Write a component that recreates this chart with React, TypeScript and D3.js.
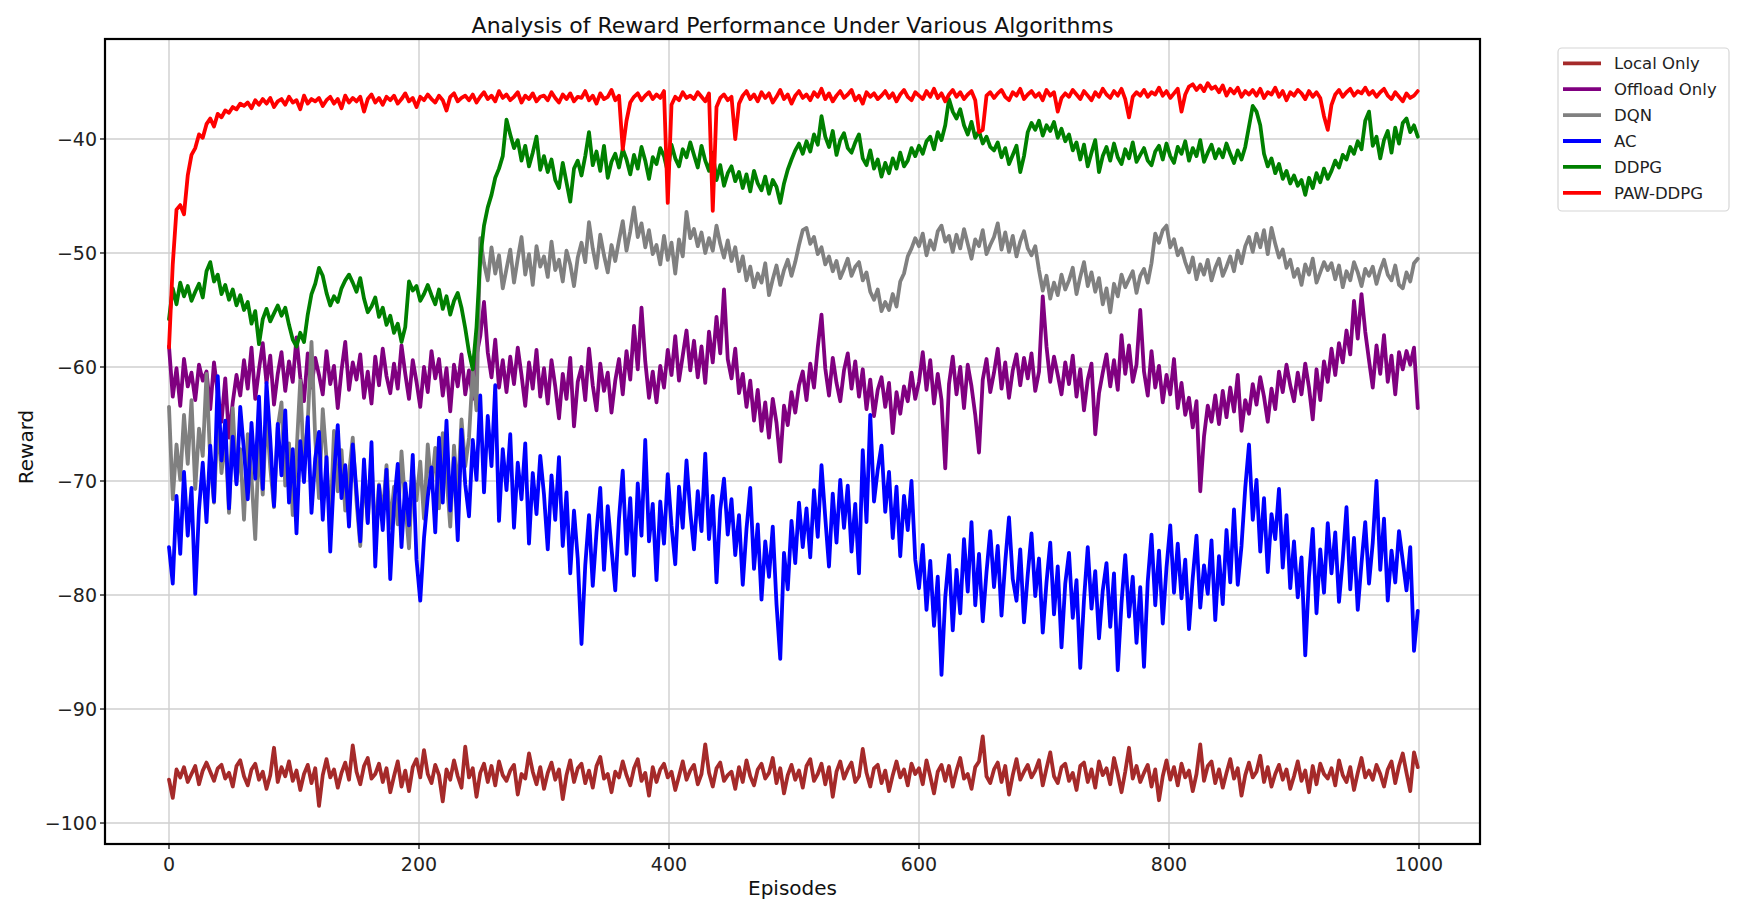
import React from "react";
import * as d3 from "d3";

const EPISODES: number[] = d3.range(0, 1000, 3);

const LOCAL_ONLY = [
  -96.2, -97.8, -95.3, -96.0, -95.1, -96.4, -95.7, -95.0, -96.6, -95.4,
  -94.7, -95.5, -96.3, -95.2, -94.9, -96.1, -95.6, -96.8, -95.0, -94.5,
  -95.9, -96.7, -95.3, -94.8, -96.2, -95.5, -97.0, -95.8, -93.4, -96.4,
  -95.1, -95.9, -94.6, -96.3, -95.4, -97.1, -95.7, -94.9, -96.5, -95.2,
  -98.5, -95.8, -94.4, -96.0, -95.3, -96.9, -95.6, -94.7, -96.2, -93.2,
  -95.5, -96.6, -95.0, -94.3, -96.1, -95.7, -94.8, -96.4, -95.2, -97.3,
  -95.9, -94.6, -96.8, -95.4, -97.2, -95.1, -94.4, -96.0, -93.6, -95.7,
  -96.5, -94.9, -95.8, -98.1, -95.3, -96.2, -94.5, -95.9, -96.9, -93.3,
  -96.0, -95.2, -97.7, -95.6, -94.8, -96.4, -95.0, -96.7, -94.6, -95.8,
  -96.3, -95.4, -94.9, -97.5, -95.7, -96.1, -93.9, -95.5, -96.6, -95.1,
  -97.0, -95.6, -94.7, -96.2, -95.3, -97.9, -95.8, -94.5, -96.4, -95.2,
  -94.8, -96.5, -95.4, -96.9, -95.0, -94.2, -96.1, -95.7, -97.3, -95.5,
  -96.0, -94.6, -95.8, -96.7, -95.2, -94.4, -96.3, -95.6, -97.6, -95.1,
  -96.4, -95.3, -94.8, -96.0, -95.5, -97.1, -95.9, -94.6, -96.2, -95.4,
  -94.9, -96.6, -95.7, -93.1, -95.6, -96.8, -95.2, -94.7, -96.3, -95.8,
  -95.5, -97.0, -95.1, -96.4, -94.5, -95.9, -96.7, -95.3, -94.8, -96.1,
  -95.6, -94.3, -96.5, -95.2, -97.4, -95.8, -94.9, -96.2, -95.4, -96.9,
  -95.0, -94.4, -96.3, -95.7, -94.8, -96.6, -95.1, -97.7, -95.5, -94.6,
  -96.1, -95.3, -94.7, -96.4, -95.9, -93.5, -95.6, -96.8, -95.2, -94.9,
  -96.5, -95.4, -97.2, -95.8, -94.6, -96.0, -95.3, -96.7, -94.8, -95.7,
  -95.2, -96.6, -94.5, -95.9, -97.4, -95.5, -94.9, -96.3, -95.0, -96.8,
  -95.4, -94.3, -96.1, -95.7, -97.0, -95.1, -94.6, -92.4, -95.9, -96.5,
  -95.3, -94.7, -96.4, -95.0, -97.5, -95.8, -94.4, -96.2, -95.5, -94.9,
  -96.0, -95.4, -94.5, -96.7, -95.2, -93.8, -95.9, -96.5, -95.1, -94.8,
  -96.3, -95.6, -97.1, -95.0, -94.7, -96.4, -95.3, -96.9, -94.6, -95.8,
  -95.2, -96.6, -94.3, -95.7, -97.3, -95.5, -93.4, -96.1, -95.0, -96.4,
  -95.6, -94.9, -96.8, -95.3, -98.0, -95.9, -94.5, -96.2, -95.1, -96.7,
  -94.8, -96.0, -95.4, -97.2, -95.7, -93.1, -96.3, -95.0, -94.6, -96.5,
  -95.3, -96.9, -95.6, -94.4, -96.1, -95.2, -97.6, -95.8, -94.7, -96.0,
  -95.5, -94.1, -96.4, -95.1, -96.8, -95.7, -94.9, -96.2, -95.3, -97.0,
  -95.9, -94.6, -96.3, -95.4, -97.3, -95.0, -96.6, -94.8, -95.7, -96.1,
  -95.2, -96.7, -94.5, -95.8, -96.4, -95.1, -97.1, -95.6, -94.3, -96.0,
  -95.4, -96.2, -94.9, -95.7, -96.8, -95.3, -94.6, -96.5, -95.0, -93.9,
  -95.6, -97.2, -93.8, -95.1,
];

const OFFLOAD_ONLY = [
  -58.2, -62.6, -60.1, -63.4, -59.3, -61.7, -60.5, -62.9, -59.8, -61.2,
  -60.4, -63.7, -59.6, -62.3, -64.8, -61.0, -66.2, -63.1, -60.7, -62.5,
  -59.4, -61.9, -58.3, -62.8, -60.2, -57.9, -61.4, -59.0, -63.3, -60.6,
  -58.7, -62.1, -59.5, -61.3, -57.4, -60.9, -63.0, -58.8, -61.8, -59.2,
  -60.7, -62.4, -58.6, -61.5, -59.9, -63.6, -60.3, -57.8, -62.0, -59.6,
  -61.1, -58.9, -62.7, -60.4, -63.2, -59.1, -61.6, -58.4, -60.8, -62.3,
  -59.7, -61.9, -58.1, -60.6, -62.8, -59.4, -61.3, -63.5, -60.0, -62.2,
  -58.6, -61.0, -59.3, -62.5, -60.1, -63.9, -59.8, -61.7, -58.9, -62.4,
  -60.3, -62.8, -59.0, -57.3, -54.3, -58.7, -60.9, -57.6, -61.8, -59.4,
  -62.2, -59.1, -61.5, -58.3, -60.7, -63.4, -59.6, -61.9, -58.5, -62.6,
  -60.1, -63.2, -59.4, -61.7, -64.5, -60.6, -62.8, -59.2, -65.2, -61.3,
  -60.0, -62.9, -58.4, -61.6, -63.8, -59.7, -62.1, -60.5, -64.0, -61.2,
  -59.3, -62.4, -58.6, -61.1, -56.4, -60.2, -54.8, -59.5, -62.7, -60.4,
  -63.1, -59.9, -61.8, -58.5, -60.7, -57.3, -61.2, -59.0, -56.8, -60.3,
  -57.7, -60.9, -58.2, -61.4, -56.9, -59.6, -55.6, -58.8, -53.2, -59.3,
  -61.0, -58.4, -62.3, -60.6, -63.5, -61.2, -64.7, -62.0, -65.6, -63.1,
  -66.2, -62.8, -64.9, -68.3, -63.4, -65.1, -62.2, -64.0, -61.6, -60.4,
  -62.9, -59.7, -61.8, -58.3, -55.4, -60.1, -62.5, -59.2, -61.4, -63.0,
  -60.3, -58.8, -61.9, -59.5, -62.6, -60.2, -63.7, -61.1, -64.3, -62.0,
  -60.9, -63.5, -61.4, -65.8, -62.2, -64.1, -61.7, -63.0, -60.5, -62.8,
  -61.3, -58.7, -62.0, -59.4, -63.2, -60.6, -62.9, -68.9, -61.5, -59.1,
  -62.4, -60.0, -63.6, -59.8, -61.7, -64.2, -67.5, -61.1, -59.3, -62.2,
  -60.5, -58.4, -61.9, -59.6, -62.7, -60.3, -58.9, -61.6, -59.2, -61.0,
  -58.8, -62.1, -60.4, -53.8, -58.2, -61.3, -59.1, -60.7, -62.4, -59.6,
  -61.5, -59.0, -62.6, -60.2, -63.8, -61.1, -59.7, -65.9, -62.3, -60.5,
  -58.9, -61.7, -59.4, -62.0, -57.2, -60.6, -58.1, -61.3, -59.8, -55.0,
  -60.4, -62.5, -58.6, -61.8, -59.9, -63.1, -60.7, -62.4, -59.3, -63.6,
  -61.4, -64.2, -62.7, -65.3, -63.0, -70.9, -66.1, -63.4, -64.8, -62.5,
  -65.0, -62.1, -64.4, -61.8, -63.9, -60.7, -65.6, -62.9, -64.1, -61.5,
  -63.3, -60.9, -62.6, -64.8, -61.9, -63.7, -60.4, -62.2, -59.8, -61.6,
  -63.0, -60.5, -62.4, -59.7, -61.8, -64.6, -60.2, -62.9, -59.5, -61.3,
  -58.4, -60.7, -57.9, -59.6, -56.8, -58.9, -54.2, -57.5, -53.6, -56.9,
  -59.4, -61.8, -58.1, -60.6, -57.2, -61.3, -59.0, -62.4, -58.7, -60.2,
  -58.6, -59.8, -58.3, -63.6,
];

const DQN = [
  -63.5, -71.6, -66.8, -69.9, -64.2, -68.5, -62.9, -70.7, -65.4, -67.8,
  -60.6, -68.2, -71.9, -64.7, -69.3, -66.0, -72.8, -63.6, -70.1, -67.2,
  -73.4, -65.9, -69.7, -75.1, -66.5, -71.2, -64.0, -68.8, -72.3, -65.3,
  -63.1, -70.4, -66.7, -73.0, -67.6, -61.2, -69.0, -64.8, -57.8, -66.3,
  -71.5, -63.7, -68.1, -74.2, -65.6, -70.9, -67.3, -72.6, -69.4, -66.2,
  -71.8, -75.7, -69.2, -73.6, -67.9, -75.2, -70.3, -72.9, -68.6, -74.1,
  -70.5, -73.8, -67.4, -72.0, -75.9, -69.1, -71.7, -68.3, -73.3, -66.8,
  -70.6, -67.1, -72.4, -65.8, -69.6, -74.0, -66.9, -71.3, -64.6, -68.7,
  -66.2, -60.3, -63.8, -48.7, -50.9, -52.4, -49.5, -51.8, -50.2, -53.1,
  -51.4, -49.7, -52.6, -50.5, -48.6, -51.9, -50.1, -52.8, -49.4, -51.2,
  -50.3, -52.1, -49.0, -51.5, -50.6, -52.5, -49.8, -51.0, -52.9, -50.4,
  -49.1, -50.8, -47.3, -49.6, -51.3, -48.4, -50.2, -51.7, -49.3, -50.7,
  -48.9, -47.2, -49.8, -48.1, -46.0, -48.6, -47.4, -49.5, -48.0, -50.1,
  -49.3, -51.0, -48.5, -50.6, -49.1, -51.8, -48.8, -50.3, -46.4, -48.7,
  -47.9, -49.4, -48.2, -50.0, -48.7, -49.8, -47.6, -49.2, -50.4, -48.9,
  -50.7, -49.5, -51.6, -50.3, -52.4, -51.2, -53.0, -51.8, -52.6, -50.9,
  -53.7, -52.3, -51.1, -52.8, -51.5, -50.6, -52.0, -50.8, -49.3, -48.0,
  -47.8, -49.2, -48.6, -50.1, -49.5, -51.0, -50.3, -51.6, -50.7, -52.2,
  -51.4, -50.5, -52.0, -51.2, -50.8, -52.4, -51.7, -53.4, -54.1, -53.2,
  -55.1, -54.3, -55.0, -53.6, -54.7, -52.5, -51.8, -50.3, -49.6, -48.7,
  -49.4, -48.3, -50.2, -48.9, -49.7, -48.1, -47.6, -49.0, -48.5, -49.9,
  -48.4, -49.6, -47.9, -49.2, -50.5, -48.8, -49.4, -48.0, -50.1, -49.3,
  -48.6, -47.4, -49.7, -48.2, -49.9, -48.5, -50.3, -49.0, -48.1, -49.6,
  -50.2, -49.4, -51.5, -53.3, -52.0, -54.0, -52.6, -53.7, -51.9, -53.2,
  -52.4, -51.3, -53.6, -52.1, -50.8, -52.9, -51.7, -53.4, -52.2, -54.5,
  -53.1, -55.2, -52.7, -53.8, -51.9, -53.0, -52.3, -51.6, -53.5, -52.0,
  -51.4, -52.6, -50.9, -48.3, -49.1, -48.0, -47.6, -49.5, -48.8, -50.2,
  -49.6, -50.8, -51.7, -50.4, -52.3, -51.0, -51.9, -50.6, -52.4, -51.3,
  -50.5, -52.0, -51.2, -50.3, -51.6, -49.8, -50.9, -49.4, -48.6, -49.9,
  -48.3, -49.5, -48.0, -50.1, -47.8, -49.2, -50.4, -49.7, -51.3, -50.6,
  -52.1, -51.4, -52.8, -51.0, -51.9, -50.5, -52.6, -51.7, -50.8, -51.5,
  -50.9, -52.3, -51.1, -53.0, -51.6, -52.4, -50.8, -51.7, -52.9, -51.4,
  -52.0, -51.2, -52.7, -51.5, -50.6, -51.9, -52.4, -51.1, -52.8, -53.1,
  -51.7, -52.5, -50.9, -50.5,
];

const AC = [
  -75.8, -79.0, -71.3, -76.4, -69.2, -74.8, -70.6, -79.9, -72.5, -68.4,
  -73.6, -66.9, -71.8, -60.8, -68.2, -64.7, -72.4, -66.1, -70.3, -63.5,
  -67.4, -71.6, -64.9, -69.8, -62.6, -70.7, -61.4, -66.3, -72.2, -65.0,
  -69.5, -63.8, -71.9, -67.2, -74.6, -66.5, -70.1, -64.4, -72.8, -68.0,
  -65.7, -73.4, -67.9, -76.2, -69.4, -65.1, -71.5, -68.6, -74.0, -66.8,
  -70.9, -75.3, -68.1, -73.7, -66.6, -77.5, -70.4, -74.3, -69.0, -78.6,
  -72.1, -68.5, -75.8, -70.2, -73.9, -67.7, -76.9, -80.5, -75.0, -71.4,
  -68.8, -74.5, -66.2, -71.9, -64.7, -72.6, -68.0, -75.2, -65.5, -70.3,
  -73.1, -66.4, -69.9, -62.5, -71.0, -64.3, -68.7, -61.6, -73.5, -67.2,
  -70.8, -65.9, -74.1, -68.4, -71.6, -66.7, -75.5, -69.3, -72.9, -67.8,
  -71.2, -76.0, -69.5, -73.4, -67.9, -75.7, -71.0, -78.1, -72.6, -76.8,
  -84.3, -77.4, -73.0, -79.2, -74.5, -70.6, -77.8, -72.2, -75.9, -79.6,
  -73.3, -69.1, -76.4, -71.5, -78.3, -70.2, -74.8, -66.4, -75.3, -72.0,
  -78.7, -71.8, -75.5, -69.4, -73.9, -77.3, -70.5, -74.1, -68.2, -72.7,
  -76.0, -70.9, -74.4, -67.6, -75.1, -71.3, -78.9, -72.5, -69.8, -74.7,
  -71.6, -76.5, -73.0, -79.1, -74.2, -70.6, -77.7, -73.8, -80.4, -75.3,
  -78.4, -74.0, -80.8, -85.6, -76.3, -79.5, -73.5, -77.2, -71.9, -75.8,
  -72.4, -76.7, -70.8, -74.9, -68.6, -73.2, -77.5, -71.1, -75.4, -69.9,
  -74.1, -70.4, -76.2, -72.0, -78.1, -67.3, -73.6, -64.2, -71.8, -69.0,
  -66.9, -72.7, -69.2, -75.0, -70.5, -76.6, -71.3, -74.3, -70.0, -76.9,
  -79.4, -75.6, -81.3, -77.0, -82.7, -78.4, -87.0, -80.2, -76.5, -83.1,
  -77.8, -81.6, -75.1, -79.7, -73.6, -80.9, -76.4, -82.3, -78.0, -74.4,
  -79.3, -75.7, -81.8, -77.1, -73.2, -78.6, -80.5, -76.0, -82.4, -78.2,
  -74.6, -80.1, -76.8, -83.3, -78.9, -75.4, -81.7, -77.5, -84.6, -79.0,
  -76.3, -82.0, -78.7, -86.4, -80.4, -75.8, -81.2, -77.9, -83.8, -79.6,
  -77.2, -82.8, -78.1, -86.6, -80.7, -76.5, -81.9, -78.4, -84.2, -79.3,
  -86.3, -78.8, -74.7, -80.9, -76.1, -82.5, -77.6, -73.9, -79.8, -75.5,
  -80.3, -76.9, -83.0, -78.5, -74.8, -81.1, -77.4, -79.9, -75.2, -82.2,
  -76.6, -80.8, -74.3, -78.9, -72.5, -79.1, -75.7, -70.6, -66.8, -73.4,
  -69.9, -76.2, -71.5, -78.0, -72.9, -75.1, -70.7, -77.6, -73.0, -79.4,
  -75.3, -80.2, -76.7, -85.3, -78.4, -74.2, -81.6, -76.0, -79.8, -73.7,
  -78.1, -74.5, -80.6, -76.9, -72.3, -79.5, -75.0, -81.3, -77.2, -73.6,
  -79.0, -75.4, -70.0, -77.8, -73.3, -80.5, -76.1, -78.9, -74.4, -77.0,
  -79.6, -75.8, -84.9, -81.4,
];

const DDPG = [
  -55.8, -53.1, -54.5, -52.6, -53.8, -52.9, -54.2, -53.4, -52.7, -53.9,
  -51.6, -50.8, -52.5, -51.9, -53.6, -52.8, -54.1, -53.2, -54.6, -53.7,
  -55.0, -54.3, -56.2, -55.1, -58.0, -55.8, -54.9, -56.0, -55.3, -54.6,
  -55.5, -54.8, -56.3, -57.6, -58.2, -57.0, -57.8, -55.4, -53.6, -52.7,
  -51.3, -52.0, -53.5, -54.6, -53.8, -54.3, -53.1, -52.4, -51.9, -52.6,
  -53.4, -52.2, -54.0, -55.2, -54.7, -53.9, -55.6, -54.8, -56.3, -55.5,
  -57.0, -56.2, -57.8, -56.5, -52.5, -53.3, -52.9, -54.2, -53.6, -52.8,
  -53.7, -54.5, -53.2, -54.9, -53.8, -55.4, -54.2, -53.5, -54.8, -56.6,
  -58.7, -60.2, -56.5, -50.5, -47.6, -46.0, -44.9, -43.4, -42.6, -41.5,
  -38.3, -39.6, -40.8, -40.1, -41.9, -40.6, -42.4, -41.2, -39.8, -42.7,
  -41.5, -42.9, -41.8, -43.6, -44.3, -42.1, -43.8, -45.5, -42.6, -41.9,
  -43.2, -41.5, -39.4, -42.3, -41.1, -42.8, -40.6, -43.4, -42.0, -41.3,
  -42.5, -40.9, -41.8, -43.1, -41.4, -42.6, -40.7, -41.9, -43.5, -41.6,
  -42.2, -40.8, -41.5, -42.9, -40.5, -41.7, -42.4, -40.9, -41.6, -40.3,
  -41.4, -42.5, -40.6, -41.9, -42.8, -41.2, -43.6, -42.3, -44.1, -43.0,
  -42.4, -43.7, -42.9, -44.3, -43.1, -44.6, -42.8, -43.9, -44.5, -43.3,
  -44.8, -43.6, -44.2, -45.6, -43.9, -42.7, -41.8, -41.0, -40.4, -41.3,
  -40.2, -41.1, -39.6, -40.5, -38.0, -39.8, -40.7, -39.3, -41.4, -40.1,
  -39.5, -40.8, -41.2, -40.3, -39.6, -41.7, -42.3, -41.0, -42.6, -41.8,
  -43.3, -42.1, -43.0, -41.7, -42.6, -41.2, -42.4, -41.9, -40.8, -41.5,
  -40.6, -41.3, -40.2, -39.8, -40.9, -39.4, -40.1, -38.8, -36.5, -37.6,
  -38.2, -37.4, -38.8, -39.6, -38.5, -39.9, -39.3, -40.4, -39.8, -40.7,
  -41.0, -40.3, -41.6, -40.8, -42.2, -41.4, -40.6, -42.9, -41.5, -39.4,
  -38.6, -39.2, -38.4, -39.7, -38.8, -39.3, -38.5, -39.9, -39.1, -40.2,
  -39.6, -41.0, -40.3, -41.8, -40.5, -42.4, -41.2, -40.1, -42.9, -41.5,
  -40.7, -41.9, -40.4, -41.6, -42.2, -40.9, -41.7, -40.3, -42.0, -41.4,
  -40.8, -41.9, -42.3, -41.1, -40.6, -41.8, -40.4, -41.5, -42.1, -40.7,
  -41.3, -40.2, -41.9, -40.8, -41.5, -40.1, -42.0, -41.2, -40.5, -41.7,
  -40.9, -41.6, -40.4, -41.3, -42.1, -41.0, -41.8, -40.7, -38.9, -37.1,
  -37.6, -38.8, -41.3, -42.4, -41.7, -43.0, -42.2, -43.5, -42.8, -43.9,
  -43.2, -44.1, -43.6, -44.9, -43.4, -44.3, -43.0, -43.8, -42.6, -43.5,
  -42.8, -41.9, -42.5, -41.4, -41.8, -40.7, -41.3, -40.2, -40.9, -38.4,
  -37.6, -40.6, -39.8, -41.7, -40.1, -39.3, -41.2, -39.0, -40.4, -38.6,
  -38.2, -39.4, -38.8, -39.8,
];

const PAW_DDPG = [
  -58.3, -51.0, -46.2, -45.8, -46.6, -43.2, -41.4, -40.8, -39.6, -39.9,
  -38.7, -38.2, -38.9, -37.8, -38.1, -37.5, -37.7, -37.2, -37.4, -36.9,
  -37.1, -36.8, -37.3, -36.6, -37.0, -36.5, -36.9, -36.4, -37.2, -36.7,
  -36.5, -37.0, -36.3, -36.8, -36.6, -37.4, -36.2, -36.9, -36.5, -36.7,
  -36.4, -37.1, -36.6, -36.3, -36.9, -36.5, -37.3, -36.2, -36.8, -36.4,
  -36.7, -36.3, -37.6, -36.5, -36.1, -36.8, -36.4, -37.0, -36.3, -36.6,
  -36.2, -36.9, -36.5, -36.0, -36.7, -36.4, -37.2, -36.3, -36.6, -36.1,
  -36.5, -36.8, -36.2, -36.6, -37.5, -36.3, -36.0, -36.7, -36.4, -36.2,
  -36.6, -36.1, -36.8, -36.3, -35.9, -36.5, -36.2, -36.7, -35.8, -36.4,
  -36.1, -36.6, -36.3, -35.9, -36.8, -36.2, -36.5, -36.0, -36.7, -36.3,
  -36.2, -36.6, -35.9, -36.4, -36.8, -36.1, -36.5, -36.0, -36.7, -36.3,
  -36.4, -35.8, -36.6, -36.2, -36.9, -36.0, -36.5, -36.3, -35.7, -36.6,
  -36.2, -40.9, -38.4, -36.8, -36.3, -36.0, -36.6, -36.2, -35.9, -36.5,
  -36.1, -36.4, -35.8, -45.6, -37.0, -36.3, -36.6, -35.9, -36.4, -36.2,
  -36.5, -35.9, -36.3, -36.7, -36.0, -46.3, -37.2, -36.4, -36.1, -36.6,
  -36.3, -40.0, -36.9, -36.2, -35.8, -36.5, -36.1, -36.7, -35.9, -36.4,
  -36.0, -36.8, -36.3, -35.7, -36.5, -36.1, -36.9, -36.2, -35.8, -36.4,
  -36.1, -36.6, -35.9, -36.3, -35.6, -36.5, -36.0, -36.7, -36.2, -35.8,
  -36.4, -36.1, -35.7, -36.6, -36.2, -36.9, -35.9, -36.3, -36.0, -36.5,
  -36.2, -35.8, -36.4, -36.0, -36.7, -36.1, -35.7, -36.3, -36.6, -35.9,
  -36.2, -36.5, -35.8, -36.3, -35.6, -36.4, -36.0, -36.7, -36.1, -35.7,
  -36.3, -35.9, -36.5, -36.1, -35.8, -36.6, -39.4, -39.2, -36.2, -35.9,
  -36.4, -36.0, -35.7, -36.3, -36.6, -35.9, -36.2, -35.6, -36.5, -36.1,
  -35.8, -36.3, -36.0, -36.6, -35.7, -36.2, -35.9, -37.6, -36.4, -36.0,
  -36.3, -35.7, -36.1, -36.5, -35.8, -36.2, -36.6, -35.9, -36.3, -35.6,
  -36.1, -36.4, -35.8, -36.2, -35.6, -36.5, -38.1, -36.3, -35.9, -36.2,
  -35.7, -36.3, -35.9, -36.1, -35.5, -36.2, -35.8, -36.4, -36.0, -35.6,
  -37.6, -36.1, -35.4, -35.2, -35.7, -35.3, -35.8, -35.1, -35.6, -35.4,
  -35.9, -35.3, -36.2, -35.6, -36.0, -35.5, -36.3, -35.8, -36.1, -35.7,
  -36.2, -35.6, -36.4, -35.9, -36.1, -35.5, -36.3, -35.8, -36.6, -35.9,
  -36.2, -35.7, -36.0, -36.5, -35.8, -36.3, -35.9, -36.4, -38.0, -39.2,
  -37.0, -36.1, -35.7, -36.3, -35.9, -35.6, -36.2, -35.8, -36.0, -35.5,
  -36.1, -35.8, -36.3, -35.9, -35.6, -36.2, -36.5, -35.9, -36.3, -36.7,
  -36.0, -36.4, -36.2, -35.8,
];

const SERIES_NAMES = ["Local Only", "Offload Only", "DQN", "AC", "DDPG", "PAW-DDPG"];
const SERIES_VALUES = [LOCAL_ONLY, OFFLOAD_ONLY, DQN, AC, DDPG, PAW_DDPG];
const SERIES_COLORS = ["#a52a2a", "#800080", "#808080", "#0000ff", "#008000", "#ff0000"];

const X_TICKS = [0, 200, 400, 600, 800, 1000];
const Y_TICKS = [-40, -50, -60, -70, -80, -90, -100];

const TITLE = "Analysis of Reward Performance Under Various Algorithms";
const X_LABEL = "Episodes";
const Y_LABEL = "Reward";

const W = 1745;
const H = 916;
const L = 105;
const R = 1480;
const T = 39;
const B = 844;
const FONT = "'DejaVu Sans', 'Liberation Sans', sans-serif";

export default function App() {
  const x = d3.scaleLinear().domain([-51.2, 1048.8]).range([L, R]);
  const y = d3.scaleLinear().domain([-101.84, -31.23]).range([B, T]);
  const line = d3
    .line<number>()
    .x((_, i) => x(EPISODES[i]))
    .y((d) => y(d));

  const legendX = 1558;
  const legendY = 48;
  const rowH = 25.9;

  return (
    <svg
      width={W}
      height={H}
      style={{ position: "absolute", left: 0, top: 0, display: "block", background: "#fff" }}
      fontFamily={FONT}
    >
      <rect x={0} y={0} width={W} height={H} fill="#fff" />
      <defs>
        <clipPath id="plotclip">
          <rect x={L} y={T} width={R - L} height={B - T} />
        </clipPath>
      </defs>
      {X_TICKS.map((t) => (
        <line key={"gx" + t} x1={x(t)} x2={x(t)} y1={T} y2={B} stroke="#cfcfcf" strokeWidth={1.4} />
      ))}
      {Y_TICKS.map((t) => (
        <line key={"gy" + t} x1={L} x2={R} y1={y(t)} y2={y(t)} stroke="#cfcfcf" strokeWidth={1.4} />
      ))}
      <g clipPath="url(#plotclip)">
        {SERIES_VALUES.map((vals, si) => (
          <path
            key={SERIES_NAMES[si]}
            d={line(vals) || ""}
            fill="none"
            stroke={SERIES_COLORS[si]}
            strokeWidth={3.8}
            strokeLinejoin="round"
            strokeLinecap="round"
          />
        ))}
      </g>
      <rect x={L} y={T} width={R - L} height={B - T} fill="none" stroke="#000" strokeWidth={2.2} />
      {X_TICKS.map((t) => (
        <g key={"xt" + t}>
          <line x1={x(t)} x2={x(t)} y1={B} y2={B + 5} stroke="#000" strokeWidth={1.2} />
          <text x={x(t)} y={871} textAnchor="middle" fontSize={19} fill="#222">
            {String(t)}
          </text>
        </g>
      ))}
      {Y_TICKS.map((t) => (
        <g key={"yt" + t}>
          <line x1={L - 5} x2={L} y1={y(t)} y2={y(t)} stroke="#000" strokeWidth={1.2} />
          <text x={97} y={y(t) + 7} textAnchor="end" fontSize={19} fill="#222">
            {"\u2212" + String(Math.abs(t))}
          </text>
        </g>
      ))}
      <text x={(L + R) / 2} y={33} textAnchor="middle" fontSize={22} fill="#111">
        {TITLE}
      </text>
      <text x={(L + R) / 2} y={895} textAnchor="middle" fontSize={20} fill="#111">
        {X_LABEL}
      </text>
      <text transform={`translate(33, ${447}) rotate(-90)`} textAnchor="middle" fontSize={20} fill="#111">
        {Y_LABEL}
      </text>
      <rect
        x={legendX}
        y={legendY}
        width={171}
        height={163}
        rx={4}
        fill="#fff"
        stroke="#d6d6d6"
        strokeWidth={1.2}
      />
      {SERIES_NAMES.map((name, i) => {
        const cy = 63.3 + i * rowH;
        return (
          <g key={"lg" + name}>
            <line x1={1563} x2={1601} y1={cy} y2={cy} stroke={SERIES_COLORS[i]} strokeWidth={3.8} />
            <text x={1614} y={cy + 6} fontSize={16.5} fill="#222">
              {name}
            </text>
          </g>
        );
      })}
    </svg>
  );
}
